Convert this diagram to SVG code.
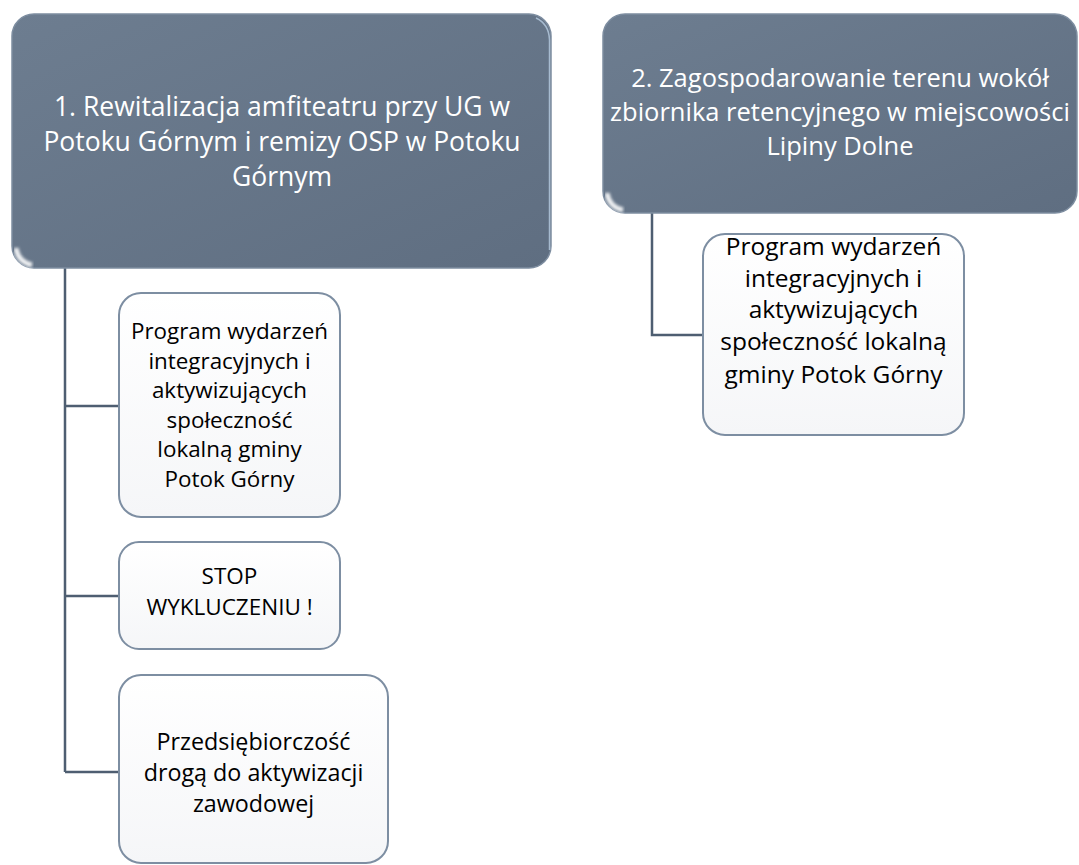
<svg xmlns="http://www.w3.org/2000/svg" width="1079" height="865" viewBox="0 0 1079 865">
<style>
.hdr{fill:url(#hg);stroke:#7d8da0;stroke-width:1.5}
.hl{fill:none;stroke:#a9b6c4;stroke-width:5;opacity:0.7;filter:url(#soft)}
.glow{fill:none;stroke:#ffffff;stroke-width:5;opacity:0.9;filter:url(#soft)}
.edge{fill:none;stroke:#b8cde2;stroke-width:1.5;opacity:0.8}
.child{fill:url(#cg);stroke:#7d8ea2;stroke-width:2}
.ht{font-family:"Open Sans","Liberation Sans",sans-serif;fill:#ffffff;text-anchor:middle}
.ct{font-family:"Open Sans","Liberation Sans",sans-serif;fill:#000000;text-anchor:middle}
.conn{fill:none;stroke:#4e5e71;stroke-width:2.5}
</style>
<defs>
<linearGradient id="hg" x1="0" y1="0" x2="1" y2="1">
<stop offset="0" stop-color="#6d7d90"/>
<stop offset="1" stop-color="#5f6e81"/>
</linearGradient>
<linearGradient id="cg" x1="0" y1="0" x2="0" y2="1">
<stop offset="0" stop-color="#ffffff"/>
<stop offset="1" stop-color="#f5f6f8"/>
</linearGradient>
<filter id="soft" x="-10%" y="-50%" width="120%" height="200%">
<feGaussianBlur stdDeviation="1.5"/>
</filter>
</defs>
<g id="connectors">
<path class="conn" d="M65 268 V772 M65 406 H119 M65 596 H119 M65 772 H119"/>
<path class="conn" d="M652 213 V335 H703"/>
</g>
<g id="node1">
<rect class="hdr" x="12" y="14" width="539" height="254" rx="22"/>
<path class="hl" d="M28 21 H534"/>
<path class="glow" d="M16 248 Q18 262 32 265"/>
<path class="edge" d="M536 18 Q549 24 549.5 40 V250"/>
<text class="ht" font-size="26.5" x="282" y="116">1. Rewitalizacja amfiteatru przy UG w</text>
<text class="ht" font-size="26.5" x="282" y="151">Potoku Górnym i remizy OSP w Potoku</text>
<text class="ht" font-size="26.5" x="282" y="186">Górnym</text>
</g>
<g id="node2">
<rect class="hdr" x="603" y="14" width="474" height="199" rx="22"/>
<path class="hl" d="M619 21 H1062"/>
<path class="glow" d="M607 193 Q609 207 623 210"/>
<text class="ht" font-size="25.5" x="840" y="87">2. Zagospodarowanie terenu wokół</text>
<text class="ht" font-size="25.5" x="840" y="121">zbiornika retencyjnego w miejscowości</text>
<text class="ht" font-size="25.5" x="840" y="155">Lipiny Dolne</text>
</g>
<g id="node1a">
<rect class="child" x="119" y="293" width="221" height="224" rx="22"/>
<g class="ct" font-size="22.4">
<text x="229.5" y="339">Program wydarzeń</text>
<text x="229.5" y="369">integracyjnych i</text>
<text x="229.5" y="398">aktywizujących</text>
<text x="229.5" y="428">społeczność</text>
<text x="229.5" y="457">lokalną gminy</text>
<text x="229.5" y="487">Potok Górny</text>
</g>
</g>
<g id="node1b">
<rect class="child" x="119" y="542" width="221" height="107" rx="20"/>
<g class="ct" font-size="22.5">
<text x="229.5" y="584">STOP</text>
<text x="229.5" y="615">WYKLUCZENIU !</text>
</g>
</g>
<g id="node1c">
<rect class="child" x="119" y="675" width="269" height="188" rx="22"/>
<g class="ct" font-size="23.3">
<text x="253.5" y="750">Przedsiębiorczość</text>
<text x="253.5" y="781">drogą do aktywizacji</text>
<text x="253.5" y="812">zawodowej</text>
</g>
</g>
<g id="node2a">
<rect class="child" x="703" y="234" width="261" height="201" rx="22"/>
<g class="ct" font-size="24.5">
<text x="833.5" y="255">Program wydarzeń</text>
<text x="833.5" y="287">integracyjnych i</text>
<text x="833.5" y="318">aktywizujących</text>
<text x="833.5" y="350">społeczność lokalną</text>
<text x="833.5" y="383">gminy Potok Górny</text>
</g>
</g>
</svg>
